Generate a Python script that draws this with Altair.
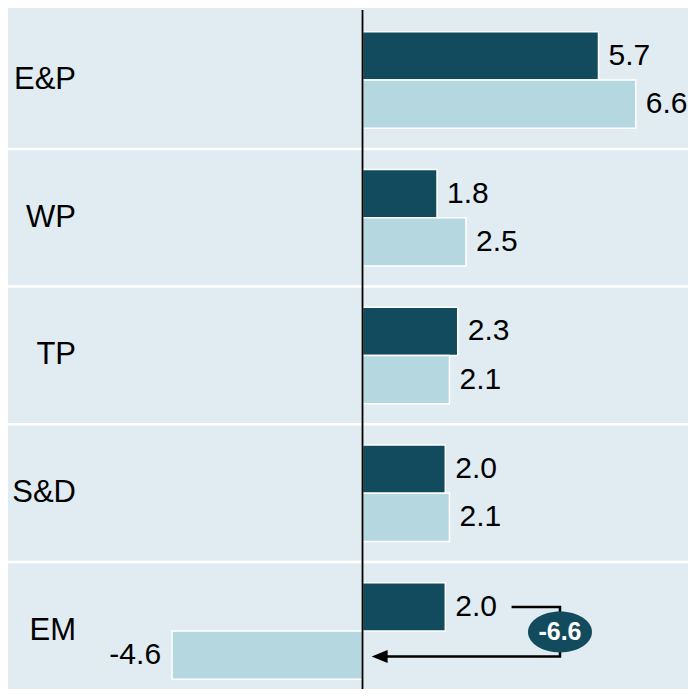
import altair as alt
import pandas as pd

# ---- data ----
categories = ["E&P", "WP", "TP", "S&D", "EM"]
series_names = ["Forrige år", "Seneste år"]
values_dark = [5.7, 1.8, 2.3, 2.0, 2.0]
values_light = [6.6, 2.5, 2.1, 2.1, -4.6]
annotation_label = "-6.6"

# ---- styles ----
BG = "#E1ECF2"
DARK = "#134B5E"
LIGHT = "#B5D8E0"
FONT = "Liberation Sans"
FS_CAT = 31
FS_VAL = 30
CAT_LABEL_X = -6.92  # data-space anchor for the right-aligned category labels
BAR_H = 0.35

rows = []
for i, c in enumerate(categories):
    for s, v, y0, y1, yc in [
        (series_names[0], values_dark[i], i - BAR_H, i, i - BAR_H / 2),
        (series_names[1], values_light[i], i, i + BAR_H, i + BAR_H / 2),
    ]:
        rows.append(dict(cat=c, idx=i, series=s, value=v, zero=0,
                         y0=y0, y1=y1, yc=yc, label=f"{v:.1f}"))
df = pd.DataFrame(rows)

cat_df = pd.DataFrame({"cat": categories, "idx": list(range(len(categories))),
                       "lx": [CAT_LABEL_X] * len(categories)})

xscale = alt.Scale(domain=[-8.563, 7.862], nice=False, zero=False)
yscale = alt.Scale(domain=[-0.5227, 4.4211], nice=False, zero=False, reverse=True)

bars = alt.Chart(df).mark_bar(stroke="white", strokeWidth=1.5).encode(
    x=alt.X("value:Q", scale=xscale, axis=None),
    x2="zero:Q",
    y=alt.Y("y0:Q", scale=yscale, axis=None),
    y2="y1:Q",
    color=alt.Color("series:N", scale=alt.Scale(domain=series_names, range=[DARK, LIGHT]),
                    legend=None),
)

cat_labels = alt.Chart(cat_df).mark_text(
    align="right", baseline="middle", fontSize=FS_CAT, font=FONT, color="black"
).encode(
    x=alt.X("lx:Q", scale=xscale, axis=None),
    y=alt.Y("idx:Q", scale=yscale, axis=None),
    text="cat:N",
)

sep_df = pd.DataFrame({"y": [i + 0.5 for i in range(len(categories) - 1)]})
separators = alt.Chart(sep_df).mark_rule(color="white", strokeWidth=2.5).encode(
    y=alt.Y("y:Q", scale=yscale, axis=None)
)

zero_df = pd.DataFrame({"x": [0], "ya": [-0.508], "yb": [4.4211]})
zero_rule = alt.Chart(zero_df).mark_rule(color="black", strokeWidth=1.8).encode(
    x=alt.X("x:Q", scale=xscale, axis=None),
    y=alt.Y("ya:Q", scale=yscale, axis=None),
    y2="yb:Q",
)

pos_labels = alt.Chart(df).transform_filter("datum.value >= 0").mark_text(
    align="left", baseline="middle", dx=10, fontSize=FS_VAL, font=FONT, color="black"
).encode(
    x=alt.X("value:Q", scale=xscale, axis=None),
    y=alt.Y("yc:Q", scale=yscale, axis=None),
    text="label:N",
)
neg_labels = alt.Chart(df).transform_filter("datum.value < 0").mark_text(
    align="right", baseline="middle", dx=-11, fontSize=FS_VAL, font=FONT, color="black"
).encode(
    x=alt.X("value:Q", scale=xscale, axis=None),
    y=alt.Y("yc:Q", scale=yscale, axis=None),
    text="label:N",
)

# annotation bracket / arrow for EM
em = len(categories) - 1
y_dark_em = em - BAR_H / 2
y_light_em = em + BAR_H / 2 + 0.01
ann_df = pd.DataFrame({
    "x": [3.60, 4.77, 4.77, 0.5],
    "y": [y_dark_em, y_dark_em, y_light_em, y_light_em],
    "o": [0, 1, 2, 3],
})
ann_line = alt.Chart(ann_df).mark_line(color="black", strokeWidth=2.5).encode(
    x=alt.X("x:Q", scale=xscale, axis=None),
    y=alt.Y("y:Q", scale=yscale, axis=None),
    order="o:Q",
)

arrow_df = pd.DataFrame({"x": [0.22], "y": [y_light_em]})
arrow = alt.Chart(arrow_df).mark_point(
    shape="M0,0L2,-0.8L2,0.8Z", filled=True, fill="black", size=256, opacity=1, strokeWidth=0
).encode(
    x=alt.X("x:Q", scale=xscale, axis=None),
    y=alt.Y("y:Q", scale=yscale, axis=None),
)

bubble_df = pd.DataFrame({"x": [4.77], "y": [em + 0.007], "t": [annotation_label]})
bubble = alt.Chart(bubble_df).mark_point(
    shape="M-1,0A1,0.64,0,1,1,1,0A1,0.64,0,1,1,-1,0Z", filled=True, fill=DARK,
    size=4096, opacity=1, strokeWidth=0
).encode(
    x=alt.X("x:Q", scale=xscale, axis=None),
    y=alt.Y("y:Q", scale=yscale, axis=None),
)
bubble_text = alt.Chart(bubble_df).mark_text(
    fontSize=25, fontWeight="bold", color="white", font=FONT, baseline="middle", align="center"
).encode(
    x=alt.X("x:Q", scale=xscale, axis=None),
    y=alt.Y("y:Q", scale=yscale, axis=None),
    text="t:N",
)

chart = alt.layer(
    separators, bars, zero_rule, cat_labels, pos_labels, neg_labels,
    ann_line, arrow, bubble, bubble_text
).properties(
    width=680, height=681, background=BG,
    autosize=alt.AutoSizeParams(type="none"), padding=0,
).configure_view(stroke=None, fill=BG)

chart.save("out.html", embed_options={"renderer": "svg", "actions": False})
